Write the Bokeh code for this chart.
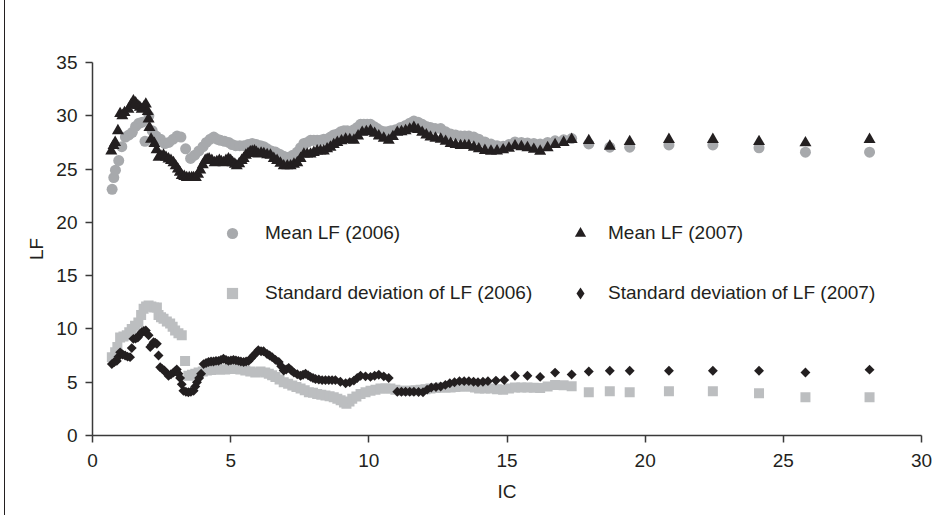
from bokeh.plotting import figure
from bokeh.models import Range1d, Legend, LegendItem, Div, FixedTicker
from bokeh.layouts import row
from bokeh.embed import file_html
from bokeh.resources import INLINE
import numpy as np

# ---------------- data ----------------
x_ticks = [0, 5, 10, 15, 20, 25, 30]
y_ticks = [0, 5, 10, 15, 20, 25, 30, 35]

ic_mean06 = [0.71, 0.77, 0.83, 0.95, 1.06, 1.19, 1.32, 1.44, 1.56, 1.68, 1.8, 1.9, 2.04, 2.16, 2.3, 2.46,
             2.62, 2.76, 2.92, 3.06, 3.2, 3.37, 3.55, 3.7, 3.85, 4.0, 4.12, 4.26, 4.39, 4.51, 4.63, 4.78,
             4.93, 5.05, 5.18, 5.33, 5.48, 5.63, 5.78, 5.93, 6.08, 6.2, 6.32, 6.47, 6.62, 6.77, 6.92, 7.1,
             7.25, 7.41, 7.53, 7.65, 7.77, 7.89, 8.01, 8.13, 8.25, 8.37, 8.49, 8.61, 8.73, 8.86, 8.98, 9.1,
             9.22, 9.34, 9.46, 9.58, 9.7, 9.82, 9.94, 10.06, 10.18, 10.3, 10.42, 10.55, 10.67, 10.8, 10.97,
             11.15, 11.33, 11.48, 11.63, 11.78, 11.93, 12.08, 12.23, 12.4, 12.6, 12.78, 12.96, 13.14, 13.32,
             13.47, 13.62, 13.8, 13.98, 14.2, 14.42, 14.64, 14.86, 15.07, 15.29, 15.52, 15.74, 15.97, 16.2,
             16.47, 16.74, 17.05, 17.34, 17.96, 18.72, 19.44, 20.86, 22.45, 24.12, 25.8, 28.12]
lf_mean06 = [23.1, 24.2, 24.9, 25.8, 27.1, 28.0, 28.2, 28.45, 29.0, 29.3, 29.4, 27.6, 30.0, 28.6, 28.1, 27.8,
             27.4, 27.5, 27.8, 28.1, 28.0, 26.9, 26.0, 26.3, 26.7, 27.1, 27.5, 27.8, 28.0, 27.8, 27.7, 27.6,
             27.5, 27.3, 27.2, 27.2, 27.2, 27.3, 27.4, 27.3, 27.2, 27.1, 26.9, 26.7, 26.6, 26.4, 26.2, 26.1,
             26.3, 26.6, 27.0, 27.4, 27.5, 27.7, 27.7, 27.7, 27.7, 27.8, 27.8, 28.0, 28.2, 28.3, 28.5, 28.6,
             28.6, 28.5, 28.7, 28.9, 29.2, 29.2, 29.2, 29.2, 29.0, 28.8, 28.6, 28.5, 28.5, 28.6, 28.7,
             28.9, 29.1, 29.3, 29.5, 29.4, 29.2, 29.0, 28.9, 28.8, 28.8, 28.5, 28.3, 28.2, 28.1,
             28.1, 28.1, 28.0, 27.8, 27.55, 27.35, 27.2, 27.14, 27.3, 27.55, 27.5, 27.45, 27.4, 27.35,
             27.5, 27.65, 27.75, 27.86, 27.36, 27.05, 27.05, 27.27, 27.27, 26.99, 26.58, 26.58]

ic_mean07 = [0.68, 0.76, 0.82, 0.92, 1.0, 1.08, 1.16, 1.3, 1.39, 1.48, 1.56, 1.64, 1.71, 1.78, 1.86, 1.93,
             2.0, 2.03, 2.06, 2.12, 2.24, 2.32, 2.39, 2.48, 2.57, 2.66, 2.75, 2.84, 2.93, 3.01, 3.09, 3.16,
             3.23, 3.32, 3.41, 3.5, 3.59, 3.66, 3.74, 3.82, 3.9, 3.99, 4.08, 4.15, 4.22, 4.32, 4.42, 4.5,
             4.59, 4.66, 4.74, 4.83, 4.92, 5.0, 5.07, 5.15, 5.22, 5.31, 5.4, 5.47, 5.55, 5.63, 5.71, 5.78,
             5.86, 5.93, 6.0, 6.1, 6.2, 6.32, 6.44, 6.56, 6.68, 6.8, 6.92, 7.05, 7.17, 7.29, 7.41, 7.53,
             7.65, 7.77, 7.89, 8.01, 8.13, 8.25, 8.37, 8.49, 8.61, 8.73, 8.86, 9.01, 9.16, 9.31, 9.46, 9.61,
             9.76, 9.91, 10.06, 10.21, 10.36, 10.54, 10.72, 10.87, 11.03, 11.18, 11.33, 11.48, 11.63, 11.78,
             11.93, 12.08, 12.23, 12.41, 12.6, 12.78, 12.96, 13.14, 13.32, 13.47, 13.62, 13.8, 13.98, 14.2,
             14.42, 14.64, 14.86, 15.07, 15.29, 15.52, 15.74, 15.97, 16.2, 16.47, 16.74, 17.05, 17.34, 17.96,
             18.72, 19.44, 20.86, 22.45, 24.12, 25.8, 28.12]
lf_mean07 = [26.7, 27.2, 27.5, 28.6, 30.2, 30.0, 30.3, 30.6, 31.0, 31.4, 31.2, 30.96, 30.8, 30.6, 30.8, 31.1,
             30.4, 29.7, 28.9, 27.8, 27.4, 26.8, 26.1, 26.2, 26.3, 26.1, 25.95, 25.8, 25.6, 25.3, 25.0, 24.7,
             24.4, 24.3, 24.2, 24.2, 24.2, 24.2, 24.2, 24.5, 24.9, 25.4, 25.8, 25.9, 25.95, 25.8, 25.6, 25.7,
             25.8, 25.7, 25.6, 25.8, 25.95, 25.8, 25.6, 25.45, 25.3, 25.5, 25.8, 26.0, 26.3, 26.45, 26.6, 26.65,
             26.7, 26.55, 26.4, 26.5, 26.45, 26.35, 26.3, 26.0, 25.8, 25.55, 25.3, 25.3, 25.3, 25.45, 25.6, 26.0,
             26.4, 26.4, 26.4, 26.55, 26.7, 26.7, 26.7, 26.9, 27.05, 27.3, 27.5, 27.65, 27.8, 27.75, 27.7, 28.1,
             28.45, 28.5, 28.6, 28.35, 28.1, 27.9, 27.7, 28.05, 28.45, 28.5, 28.6, 28.75, 28.9, 28.7,
             28.45, 28.2, 28.0, 27.9, 27.8, 27.6, 27.4, 27.3, 27.2, 27.2, 27.2, 27.05, 26.9, 26.75,
             26.67, 26.7, 26.8, 26.95, 27.18, 27.1, 27.0, 26.85, 26.67, 27.0, 27.3, 27.5, 27.77, 27.67,
             27.14, 27.58, 27.77, 27.77, 27.58, 27.46, 27.77]

ic_sd06 = [0.7, 0.82, 0.9, 1.0, 1.12, 1.24, 1.33, 1.42, 1.54, 1.66, 1.76, 1.85, 1.94, 2.03, 2.13, 2.23, 2.33,
           2.39, 2.48, 2.57, 2.69, 2.81, 2.9, 2.99, 3.11, 3.23, 3.35, 3.47, 3.6, 3.72, 3.84, 3.99, 4.14, 4.29,
           4.44, 4.62, 4.8, 4.98, 5.16, 5.35, 5.53, 5.71, 5.89, 6.08, 6.25, 6.38, 6.5, 6.62, 6.77, 6.92, 7.08,
           7.23, 7.38, 7.53, 7.68, 7.83, 7.98, 8.13, 8.28, 8.43, 8.58, 8.73, 8.86, 8.98, 9.1, 9.19, 9.3, 9.4,
           9.55, 9.7, 9.88, 10.06, 10.24, 10.42, 10.6, 10.78, 10.96, 11.15, 11.33, 11.51, 11.69, 11.87, 12.05,
           12.23, 12.42, 12.6, 12.78, 12.96, 13.14, 13.32, 13.5, 13.68, 13.84, 13.99, 14.2, 14.42, 14.64,
           14.86, 15.07, 15.29, 15.52, 15.74, 15.97, 16.2, 16.47, 16.74, 17.05, 17.34, 17.96, 18.72, 19.44,
           20.86, 22.45, 24.12, 25.8, 28.12]
lf_sd06 = [7.35, 7.8, 8.3, 9.2, 9.3, 9.4, 9.7, 10.0, 10.3, 10.6, 11.3, 11.9, 12.1, 12.2, 12.1, 12.0, 12.0,
           11.3, 11.1, 10.95, 10.7, 10.5, 10.2, 9.85, 9.6, 9.4, 7.0, 5.6, 5.7, 5.8, 5.9, 6.0, 6.1, 6.15,
           6.2, 6.2, 6.2, 6.25, 6.25, 6.2, 6.1, 6.0, 5.9, 6.0, 5.9, 5.8, 5.65, 5.5, 5.25, 5.0, 4.85,
           4.7, 4.55, 4.4, 4.25, 4.06, 4.0, 3.9, 3.82, 3.75, 3.68, 3.6, 3.45, 3.3, 3.1, 2.97, 3.2, 3.45,
           3.65, 3.9, 4.05, 4.2, 4.3, 4.4, 4.4, 4.4, 4.3, 4.2, 4.2, 4.2, 4.25, 4.3, 4.35,
           4.4, 4.45, 4.5, 4.5, 4.5, 4.55, 4.6, 4.6, 4.6, 4.5, 4.4, 4.4, 4.4, 4.35,
           4.3, 4.4, 4.5, 4.5, 4.5, 4.47, 4.45, 4.6, 4.75, 4.72, 4.63, 4.06, 4.16, 4.06,
           4.16, 4.16, 3.97, 3.59, 3.59]

ic_sd07 = [0.7, 0.79, 0.88, 0.94, 1.0, 1.09, 1.18, 1.27, 1.36, 1.42, 1.48, 1.56, 1.64, 1.71, 1.78, 1.86, 1.93,
           2.03, 2.09, 2.15, 2.21, 2.27, 2.33, 2.39, 2.45, 2.52, 2.6, 2.68, 2.75, 2.84, 2.93, 3.0, 3.05, 3.11,
           3.17, 3.23, 3.29, 3.38, 3.47, 3.56, 3.66, 3.72, 3.78, 3.86, 3.93, 4.02, 4.11, 4.2, 4.29, 4.38, 4.47,
           4.56, 4.65, 4.74, 4.83, 4.92, 5.01, 5.1, 5.19, 5.28, 5.37, 5.47, 5.56, 5.65, 5.74, 5.83, 5.92, 6.0,
           6.1, 6.19, 6.32, 6.41, 6.5, 6.62, 6.74, 6.83, 6.92, 7.01, 7.1, 7.2, 7.29, 7.41, 7.53, 7.62, 7.71,
           7.8, 7.89, 7.98, 8.07, 8.19, 8.31, 8.43, 8.55, 8.67, 8.79, 8.97, 9.16, 9.31, 9.46, 9.58, 9.7, 9.88,
           10.06, 10.21, 10.36, 10.54, 10.72, 11.03, 11.18, 11.33, 11.48, 11.63, 11.8, 11.96, 12.11, 12.26,
           12.43, 12.6, 12.77, 12.93, 13.1, 13.28, 13.45, 13.62, 13.79, 13.95, 14.13, 14.31, 14.6, 14.9,
           15.29, 15.74, 16.2, 16.74, 17.34, 17.96, 18.72, 19.44, 20.86, 22.45, 24.12, 25.8, 28.12]
lf_sd07 = [6.7, 6.9, 7.0, 7.4, 7.8, 7.6, 7.5, 7.4, 7.35, 8.2, 9.07, 9.1, 9.2, 9.45, 9.7, 9.8, 9.85,
           9.4, 8.3, 8.5, 8.75, 8.7, 8.6, 7.5, 6.4, 6.25, 6.1, 5.85, 5.6, 5.75, 5.9, 6.05, 6.2, 5.8,
           5.4, 4.8, 4.2, 4.1, 4.06, 4.1, 4.2, 4.6, 5.0, 5.4, 5.8, 6.7, 6.8, 6.9, 6.95, 6.95, 7.0,
           7.0, 7.1, 7.2, 7.1, 7.0, 7.05, 7.1, 7.05, 7.0, 6.95, 6.9, 6.95, 7.0, 7.25, 7.5, 7.75, 8.0,
           7.9, 7.9, 7.65, 7.5, 7.35, 7.1, 6.9, 6.5, 6.1, 6.2, 6.35, 6.1, 5.9, 5.75, 5.6, 5.7, 5.8,
           5.65, 5.5, 5.4, 5.3, 5.25, 5.2, 5.2, 5.2, 5.2, 5.2, 5.05, 4.9, 5.0, 5.15, 5.4, 5.6, 5.55,
           5.5, 5.6, 5.7, 5.55, 5.4, 4.1, 4.1, 4.1, 4.1, 4.1, 4.08, 4.06, 4.3, 4.5,
           4.55, 4.6, 4.75, 4.9, 5.0, 5.1, 5.1, 5.1, 5.05, 5.0, 5.05, 5.1, 5.15, 5.2,
           5.6, 5.6, 5.5, 5.9, 5.72, 6.0, 6.07, 6.07, 6.07, 6.07, 6.07, 5.91, 6.18]

labels = ["Mean LF (2006)", "Mean LF (2007)",
          "Standard deviation of LF (2006)", "Standard deviation of LF (2007)"]

# ---------------- figure ----------------
FONT = "Liberation Sans"
TXT = "#231f20"
GREY_C = "#a7a9ac"
GREY_S = "#bcbec0"
BLACK = "#231f20"

p = figure(width=938, height=515, output_backend="svg", toolbar_location=None,
           x_range=Range1d(0, 30), y_range=Range1d(0, 35),
           min_border_left=87, min_border_right=22, min_border_top=62, min_border_bottom=80)
p.background_fill_color = "white"
p.border_fill_color = "white"
p.outline_line_color = None
p.xgrid.visible = False
p.ygrid.visible = False

r1 = p.scatter(ic_mean06, lf_mean06, marker="circle", size=11, fill_color=GREY_C, line_color=None)
r3 = p.scatter(ic_sd06, lf_sd06, marker="square", size=10, fill_color=GREY_S, line_color=None)
r2 = p.scatter(ic_mean07, lf_mean07, marker="triangle", size=12, fill_color=BLACK, line_color=None)
r4 = p.scatter(ic_sd07, lf_sd07, marker="square", size=7, angle=np.pi / 4, fill_color=BLACK, line_color=None)
# hidden twin of the SD-2007 series, used only for its legend swatch
# (legend swatches ignore marker angle, so a diamond marker stands in)
r4_leg = p.scatter(ic_sd07, lf_sd07, marker="diamond", fill_color=BLACK, line_color=None, visible=False)

for ax, ticks in ((p.xaxis, x_ticks), (p.yaxis, y_ticks)):
    ax.ticker = FixedTicker(ticks=ticks)
    ax.minor_tick_line_color = None
    ax.major_tick_in = 0
    ax.major_tick_out = 7
    ax.axis_line_color = "#3a3a3a"
    ax.axis_line_width = 1.5
    ax.major_tick_line_color = "#3a3a3a"
    ax.major_tick_line_width = 1.5
    ax.major_label_text_font = FONT
    ax.major_label_text_font_size = "19px"
    ax.major_label_text_color = TXT
    ax.axis_label_text_font = FONT
    ax.axis_label_text_font_size = "19px"
    ax.axis_label_text_font_style = "normal"
    ax.axis_label_text_color = TXT

p.xaxis.axis_label = "IC"
p.yaxis.axis_label = "LF"
p.xaxis.major_label_standoff = 11
p.yaxis.major_label_standoff = 8
p.xaxis.axis_label_standoff = 11
p.yaxis.axis_label_standoff = 6

# legend: four single-item legends placed in the frame
positions = [(126, 188, 19, 28), (474, 188, 14, 28), (126, 128, 19, 28), (473, 127, 13, 30)]
for rend, lab, (lx, ly, so, gs) in zip([r1, r2, r3, r4_leg], labels, positions):
    lg = Legend(items=[LegendItem(label=lab, renderers=[rend])], location=(lx, ly))
    lg.margin = 0
    lg.padding = 0
    lg.glyph_width = gs
    lg.glyph_height = gs
    lg.label_height = gs
    lg.label_standoff = so
    lg.border_line_color = None
    lg.background_fill_alpha = 0
    lg.inactive_fill_alpha = 0
    lg.click_policy = "none"
    lg.label_text_font = FONT
    lg.label_text_font_size = "19px"
    lg.label_text_color = TXT
    p.add_layout(lg, "center")

edge = Div(width=5, height=515, margin=0,
           styles={"border-right": "1.5px solid #231f20", "box-sizing": "border-box"})
layout = row(edge, p, spacing=0)

open("out.html", "w").write(file_html(layout, INLINE))
